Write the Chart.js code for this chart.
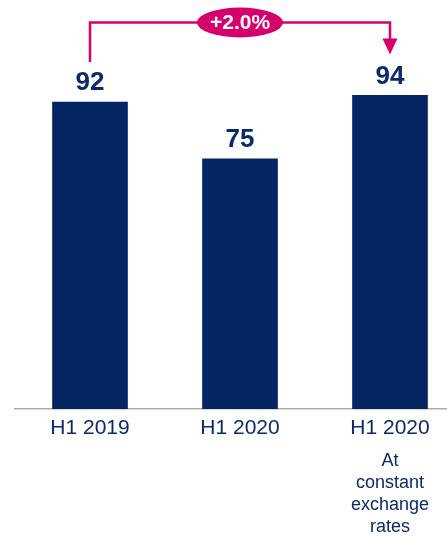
<!DOCTYPE html>
<html><head><meta charset="utf-8">
<script src="https://cdn.jsdelivr.net/npm/chart.js@4"></script>
<style>
html,body{margin:0;padding:0;background:#fff;overflow:hidden;}
#wrap{position:relative;width:465px;height:536px;}
</style></head>
<body><div id="wrap"><canvas id="c"></canvas></div>
<script>
const categories = ['H1 2019', 'H1 2020', 'H1 2020'];
const values = [92, 75, 94];
const valueLabels = ['92', '75', '94'];
const subNote = ['At', 'constant', 'exchange', 'rates'];
const changeLabel = '+2.0%';

const NAVY = '#032564';
const TEXT = '#0b2a6a';
const PINK = '#d6006d';

const overlay = {
  id: 'overlay',
  afterDatasetsDraw(chart) {
    const ctx = chart.ctx;
    const bars = chart.getDatasetMeta(0).data;
    ctx.save();
    // value labels
    ctx.fillStyle = TEXT;
    ctx.font = 'bold 26px "Liberation Sans", Arial, sans-serif';
    ctx.textAlign = 'center';
    ctx.textBaseline = 'middle';
    bars.forEach((b, i) => ctx.fillText(valueLabels[i], b.x, b.y - 19));
    // sub note under third category
    const xs = chart.scales.x;
    const nx = xs.getPixelForValue(2);
    ctx.font = '18px "Liberation Sans", Arial, sans-serif';
    subNote.forEach((t, i) => ctx.fillText(t, nx, 461 + i * 22));
    // bracket arrow
    const x0 = bars[0].x, x2 = bars[2].x, xm = bars[1].x;
    const yTop = 22.5;
    ctx.strokeStyle = PINK;
    ctx.lineWidth = 2.5;
    ctx.beginPath();
    ctx.moveTo(x0, bars[0].y - 40);
    ctx.lineTo(x0, yTop);
    ctx.lineTo(x2, yTop);
    ctx.lineTo(x2, bars[2].y - 56);
    ctx.stroke();
    ctx.fillStyle = PINK;
    ctx.beginPath();
    ctx.moveTo(x2 - 7.5, bars[2].y - 57);
    ctx.lineTo(x2 + 7.5, bars[2].y - 57);
    ctx.lineTo(x2, bars[2].y - 41);
    ctx.closePath();
    ctx.fill();
    ctx.beginPath();
    ctx.ellipse(xm, yTop, 43, 15, 0, 0, Math.PI * 2);
    ctx.fill();
    ctx.fillStyle = '#ffffff';
    ctx.font = 'bold 21px "Liberation Sans", Arial, sans-serif';
    ctx.fillText(changeLabel, xm, yTop + 1);
    ctx.restore();
  }
};

new Chart(document.getElementById('c'), {
  type: 'bar',
  data: {
    labels: categories,
    datasets: [{ data: values, backgroundColor: NAVY, barThickness: 75 }]
  },
  options: {
    responsive: true,
    maintainAspectRatio: false,
    animation: false,
    layout: { padding: { left: 15, right: 0, top: 0, bottom: 0 } },
    plugins: { legend: { display: false }, tooltip: { enabled: false } },
    scales: {
      x: {
        grid: { display: false, drawTicks: false },
        border: { display: true, color: '#b3aaa2', width: 1.5 },
        ticks: { color: TEXT, padding: 7, font: { size: 21, family: '"Liberation Sans", Arial, sans-serif' } },
        afterFit(s) { s.height = 127; }
      },
      y: { display: false, min: 0, max: 122.6 }
    }
  },
  plugins: [overlay]
});
</script></body></html>
